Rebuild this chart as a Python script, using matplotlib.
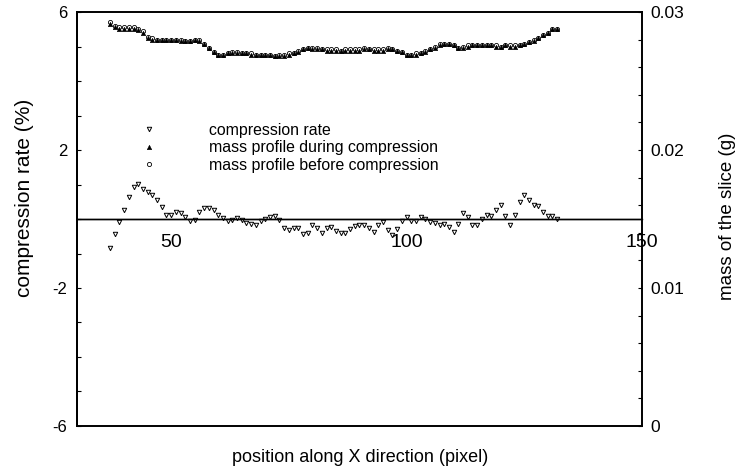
import numpy as np
import matplotlib
matplotlib.use('Agg')
import matplotlib.pyplot as plt
from matplotlib.ticker import MultipleLocator, FixedLocator

plt.rcParams['font.family'] = ['Liberation Sans', 'DejaVu Sans']

# position along X (pixel)
position = list(range(37, 133))

# compression rate (%)
compression_rate = [
    -0.85, -0.43, -0.08, 0.26, 0.65, 0.94, 1.01, 0.87, 0.77, 0.70,
    0.55, 0.34, 0.12, 0.12, 0.19, 0.18, 0.07, -0.06, -0.03, 0.21,
    0.31, 0.33, 0.26, 0.12, 0.02, -0.06, -0.03, 0.02, -0.03, -0.13,
    -0.15, -0.17, -0.06, -0.01, 0.05, 0.10, -0.03, -0.27, -0.32, -0.27,
    -0.27, -0.43, -0.40, -0.17, -0.27, -0.40, -0.27, -0.22, -0.35, -0.42,
    -0.40, -0.29, -0.20, -0.17, -0.17, -0.27, -0.37, -0.17, -0.08, -0.32,
    -0.46, -0.29, -0.06, 0.05, -0.06, -0.06, 0.05, -0.01, -0.08, -0.13,
    -0.17, -0.15, -0.22, -0.37, -0.14, 0.16, 0.07, -0.17, -0.17, -0.01,
    0.12, 0.09, 0.26, 0.41, 0.09, -0.17, 0.12, 0.50, 0.70, 0.55,
    0.41, 0.38, 0.21, 0.09, 0.09, -0.01,
]

# mass of the slice (g) during compression
mass_during = [
    0.0291, 0.0289, 0.0288, 0.0288, 0.0288, 0.0288, 0.0287, 0.0285, 0.0281, 0.0280,
    0.0280, 0.0280, 0.0280, 0.0280, 0.0280, 0.0279, 0.0279, 0.0279, 0.0280, 0.0279,
    0.0277, 0.0274, 0.0271, 0.0269, 0.0269, 0.0270, 0.0270, 0.0270, 0.0270, 0.0270,
    0.0269, 0.0269, 0.0269, 0.0269, 0.0269, 0.0268, 0.0268, 0.0268, 0.0269, 0.0270,
    0.0271, 0.0273, 0.0274, 0.0273, 0.0273, 0.0273, 0.0272, 0.0272, 0.0272, 0.0272,
    0.0272, 0.0272, 0.0272, 0.0272, 0.0273, 0.0273, 0.0272, 0.0272, 0.0272, 0.0273,
    0.0273, 0.0272, 0.0271, 0.0269, 0.0269, 0.0269, 0.0270, 0.0271, 0.0273, 0.0274,
    0.0276, 0.0277, 0.0277, 0.0276, 0.0274, 0.0274, 0.0275, 0.0276, 0.0276, 0.0276,
    0.0276, 0.0276, 0.0275, 0.0275, 0.0276, 0.0275, 0.0275, 0.0276, 0.0277, 0.0278,
    0.0279, 0.0281, 0.0283, 0.0285, 0.0288, 0.0288,
]

# mass of the slice (g) before compression
mass_before = [
    0.0293, 0.0290, 0.0289, 0.0289, 0.0289, 0.0289, 0.0288, 0.0286, 0.0282, 0.0281,
    0.0280, 0.0280, 0.0280, 0.0280, 0.0280, 0.0280, 0.0279, 0.0279, 0.0280, 0.0280,
    0.0277, 0.0274, 0.0271, 0.0269, 0.0269, 0.0270, 0.0271, 0.0271, 0.0270, 0.0270,
    0.0270, 0.0269, 0.0269, 0.0269, 0.0269, 0.0268, 0.0269, 0.0269, 0.0270, 0.0270,
    0.0272, 0.0273, 0.0274, 0.0274, 0.0274, 0.0273, 0.0273, 0.0273, 0.0273, 0.0272,
    0.0273, 0.0273, 0.0273, 0.0273, 0.0274, 0.0273, 0.0273, 0.0273, 0.0273, 0.0274,
    0.0273, 0.0272, 0.0271, 0.0269, 0.0269, 0.0270, 0.0270, 0.0272, 0.0273, 0.0275,
    0.0277, 0.0277, 0.0277, 0.0276, 0.0274, 0.0275, 0.0276, 0.0276, 0.0276, 0.0276,
    0.0276, 0.0276, 0.0276, 0.0275, 0.0276, 0.0276, 0.0276, 0.0276, 0.0277, 0.0278,
    0.0280, 0.0281, 0.0283, 0.0285, 0.0288, 0.0288,
]

fig = plt.figure(figsize=(7.37, 4.72), dpi=100)
ax = fig.add_axes([0.1045, 0.0975, 0.7665, 0.877])
ax2 = ax.twinx()

l1, = ax.plot(position, compression_rate, linestyle='none', marker='v', ms=3.2,
              mfc='white', mec='black', mew=0.7, label='compression rate')
ax.axhline(0, color='black', lw=1.0)

l3, = ax2.plot(position, mass_before, linestyle='none', marker='o', ms=3,
               mfc='white', mec='black', mew=0.6,
               label='mass profile before compression')
l2, = ax2.plot(position, mass_during, linestyle='none', marker='^', ms=3.2,
               mfc='black', mec='black', mew=0.4,
               label='mass profile during compression')

ax.set_xlim(30, 150)
ax.set_ylim(-6, 6)
ax2.set_ylim(0, 0.03)

# x axis runs along the zero line, box closed by the twin axes
ax.spines['bottom'].set_position(('data', 0))
ax.spines['bottom'].set_linewidth(1.0)
ax.set_xticks([50, 100, 150])
ax.set_xticklabels(['50', '100', '150'])
ax.tick_params(axis='x', length=0, pad=11, labelsize=14)

ax.yaxis.set_major_locator(FixedLocator([-6, -2, 2, 6]))
ax.set_yticklabels(['-6', '-2', '2', '6'])
ax.yaxis.set_minor_locator(MultipleLocator(1))
ax.tick_params(axis='y', which='both', direction='in', length=3, width=0.8,
               labelsize=12, pad=7)

ax2.yaxis.set_major_locator(FixedLocator([0, 0.01, 0.02, 0.03]))
ax2.set_yticklabels(['0', '0.01', '0.02', '0.03'])
ax2.yaxis.set_minor_locator(MultipleLocator(0.002))
ax2.tick_params(axis='y', which='both', direction='in', length=3, width=0.8,
                labelsize=12.5, pad=6)

for side in ['left', 'right', 'top', 'bottom']:
    ax2.spines[side].set_linewidth(1.4)
ax.spines['left'].set_linewidth(1.4)
ax.spines['right'].set_visible(False)
ax.spines['top'].set_visible(False)

ax.set_xlabel('position along X direction (pixel)', fontsize=13)
ax.xaxis.set_label_coords(0.501, -0.055)
ax.set_ylabel('compression rate (%)', fontsize=15)
ax.yaxis.set_label_coords(-0.076, 0.551)
ax2.set_ylabel('mass of the slice (g)', fontsize=13.5)
ax2.yaxis.set_label_coords(1.136, 0.507)

ax2.legend([l1, l2, l3],
           ['compression rate', 'mass profile during compression',
            'mass profile before compression'],
           loc='upper left', bbox_to_anchor=(0.099, 0.732), frameon=False,
           fontsize=11.4, handlelength=2, handletextpad=2.8, labelspacing=0.15,
           borderpad=0, borderaxespad=0)

fig.savefig('out.png', dpi=100)
